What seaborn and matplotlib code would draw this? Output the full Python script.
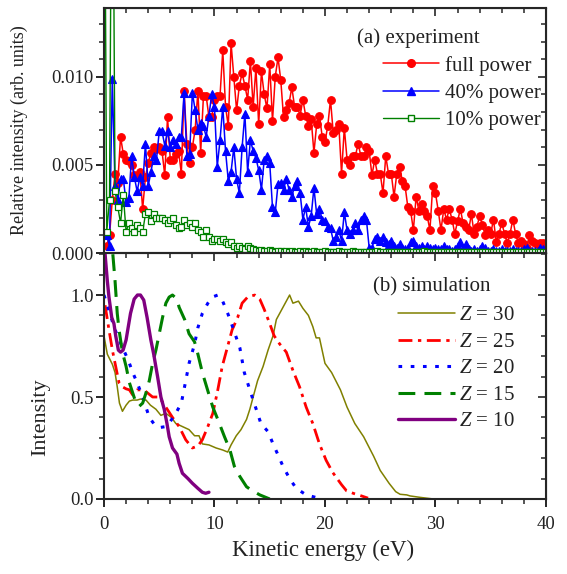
import numpy as np
import matplotlib
matplotlib.use("Agg")
import matplotlib.pyplot as plt
from matplotlib.ticker import MultipleLocator, FormatStrFormatter
from matplotlib.lines import Line2D
import seaborn as sns

# ---- (a) experiment: spectra on a 0.25 eV energy grid (values in 1e-3 arb. units)
energy = np.arange(0.25, 40.01, 0.25)
energy_10 = np.arange(0.0, 40.01, 0.25)

full_power = [
    0.4, 1.0, 3.0, 4.5, 4.0, 6.6, 5.6, 5.3,
    5.2, 5.0, 4.4, 4.3, 4.6, 2.5, 4.3, 5.1,
    5.7, 6.0, 5.9, 6.0, 5.8, 4.4, 7.7, 5.3,
    5.3, 5.6, 5.8, 4.5, 9.2, 6.2, 5.1, 6.0,
    7.0, 9.2, 5.7, 8.9, 8.9, 7.7, 7.7, 8.7,
    8.9, 8.9, 11.5, 8.3, 7.2, 11.9, 10.0, 8.1,
    9.5, 10.2, 9.5, 8.7, 10.9, 8.3, 10.5, 7.3,
    10.3, 9.0, 8.2, 10.7, 7.5, 10.0, 11.1, 9.8,
    7.7, 8.1, 8.5, 9.4, 8.3, 8.3, 7.8, 8.7,
    7.8, 7.2, 7.6, 5.7, 7.3, 7.8, 6.6, 6.3,
    7.2, 8.7, 6.8, 7.0, 7.3, 4.5, 7.1, 5.3,
    5.0, 5.5, 5.5, 6.2, 5.5, 5.5, 6.0, 5.8,
    4.4, 5.3, 4.5, 4.5, 3.4, 5.5, 4.5, 4.5,
    3.2, 4.5, 4.9, 4.1, 3.8, 2.6, 2.4, 1.3,
    3.2, 2.4, 2.8, 2.4, 2.1, 1.3, 3.8, 3.4,
    2.4, 1.3, 2.5, 1.9, 2.5, 1.9, 1.1, 1.8,
    2.5, 1.7, 1.5, 1.3, 2.2, 1.1, 1.5, 2.1,
    1.6, 1.0, 1.3, 1.1, 1.9, 0.65, 1.1, 1.7,
    1.1, 0.55, 1.1, 1.9, 1.1, 0.55, 0.7, 0.5,
    0.3, 1.0, 0.7, 0.55, 0.5, 0.55, 0.55, 0.45,
]
power_40 = [
    1.0, 0.4, 9.9, 3.8, 3.0, 4.2, 4.2, 2.9,
    3.1, 5.5, 4.3, 3.5, 4.3, 3.8, 6.2, 3.8,
    4.6, 5.5, 5.3, 6.9, 6.9, 6.1, 6.9, 6.0,
    6.4, 6.2, 6.6, 6.6, 9.1, 5.5, 5.6, 9.1,
    8.1, 7.0, 7.4, 7.2, 6.6, 7.8, 9.0, 8.3,
    4.9, 6.4, 8.3, 5.8, 4.1, 4.6, 6.0, 4.2,
    3.4, 6.0, 7.9, 4.6, 6.4, 5.8, 5.4, 4.7,
    3.6, 5.3, 5.5, 5.1, 2.6, 2.3, 3.9, 4.0,
    3.6, 4.2, 3.6, 3.2, 3.8, 4.1, 3.4, 1.9,
    2.6, 1.5, 2.1, 3.7, 2.2, 2.5, 1.9, 1.8,
    1.5, 1.4, 0.7, 0.9, 1.3, 0.7, 2.3, 1.3,
    1.1, 1.3, 1.7, 1.3, 1.9, 2.1, 1.9, 0.3,
    0.3, 0.8, 0.9, 0.7, 0.9, 0.6, 0.5, 0.7,
    0.4, 0.3, 0.5, 0.3, 0.2, 0.3, 0.6, 0.7,
    0.4, 0.3, 0.4, 0.2, 0.4, 0.3, 0.2, 0.3,
    0.2, 0.2, 0.4, 0.2, 0.2, 0.1, 0.2, 0.4,
    0.6, 0.3, 0.5, 0.2, 0.1, 0.2, 0.1, 0.2,
    0.4, 0.3, 0.1, 0.1, 0.2, 0.1, 0.1, 0.2,
    0.1, 0.1, 0.1, 0.2, 0.1, 0.1, 0.1, 0.2,
    0.3, 0.1, 0.1, 0.1, 0.1, 0.3, 0.2, 0.3,
]
power_10 = [
    30.0, 1.2, 3.0, 30.0, 3.5, 2.6, 1.7, 3.3,
    1.2, 1.7, 1.4, 1.2, 1.6, 1.4, 1.2, 2.2,
    2.3, 1.8, 2.2, 2.0, 2.0, 2.0, 1.9, 1.7,
    1.9, 2.0, 1.6, 1.4, 1.5, 1.9, 1.6, 1.7,
    1.5, 1.7, 1.3, 1.2, 0.9, 1.3, 0.9, 0.7,
    0.8, 0.8, 0.7, 0.8, 0.6, 0.5, 0.6, 0.4,
    0.3, 0.4, 0.3, 0.2, 0.4, 0.3, 0.2, 0.15,
    0.1, 0.15, 0.1, 0.1, 0.15, 0.1, 0.05, 0.1,
    0.1, 0.05, 0.1, 0.05, 0.1, 0.05, 0.05, 0.1,
    0.05, 0.1, 0.05, 0.05, 0.1, 0.05, 0.05, 0.05,
    0.1, 0.05, 0.05, 0.05, 0.05, 0.1, 0.05, 0.05,
    0.05, 0.05, 0.1, 0.05, 0.05, 0.05, 0.05, 0.05,
    0.05, 0.05, 0.05, 0.1, 0.05, 0.05, 0.05, 0.05,
    0.05, 0.05, 0.05, 0.05, 0.05, 0.05, 0.05, 0.05,
    0.05, 0.05, 0.05, 0.05, 0.1, 0.05, 0.05, 0.05,
    0.05, 0.05, 0.05, 0.05, 0.05, 0.05, 0.05, 0.05,
    0.05, 0.05, 0.05, 0.05, 0.05, 0.05, 0.05, 0.05,
    0.05, 0.05, 0.05, 0.05, 0.05, 0.05, 0.05, 0.05,
    0.05, 0.05, 0.05, 0.05, 0.05, 0.05, 0.05, 0.05,
    0.05, 0.05, 0.05, 0.05, 0.05, 0.05, 0.05, 0.05,
    0.05,
]

# ---- (b) simulation: normalised intensity curves
e_z10 = [0.1, 0.3, 0.45, 0.7, 0.9, 1.06, 1.2, 1.3, 1.5, 1.73, 2.0, 2.2, 2.4, 2.73, 3.03, 3.3,
         3.6, 3.9, 4.24, 4.5, 4.85, 5.15, 5.45, 5.7, 5.9, 6.2, 6.6, 6.8, 7.1, 7.6, 8.0, 8.5,
         8.9, 9.2, 9.5]
i_z10 = [1.2, 1.07, 0.99, 0.89, 0.86, 0.80, 0.76, 0.73, 0.72, 0.73, 0.78, 0.845, 0.91, 0.98, 1.0, 1.0,
         0.975, 0.89, 0.78, 0.71, 0.60, 0.50, 0.44, 0.37, 0.305, 0.25, 0.22, 0.175, 0.126, 0.10, 0.077, 0.052,
         0.033, 0.028, 0.033]

e_z15 = [0.8, 1.0, 1.2, 1.36, 1.67, 2.0, 2.3, 2.6, 2.9, 3.2, 3.5, 3.8, 4.1, 4.4, 4.7, 5.0,
         5.3, 5.6, 5.9, 6.2, 6.6, 6.8, 7.3, 7.7, 8.2, 8.5, 8.9, 9.4, 9.85, 10.3, 10.9, 11.4,
         11.8, 12.3, 12.9, 13.3, 14.1, 15.0]
i_z15 = [1.2, 1.07, 0.91, 0.83, 0.72, 0.65, 0.57, 0.52, 0.47, 0.455, 0.47, 0.52, 0.58, 0.665, 0.73, 0.81,
         0.89, 0.96, 0.99, 1.0, 0.98, 0.94, 0.88, 0.81, 0.77, 0.71, 0.62, 0.53, 0.45, 0.39, 0.306, 0.24,
         0.16, 0.11, 0.06, 0.045, 0.02, 0.0]

e_z20 = [0.0, 0.3, 0.76, 1.2, 1.7, 2.2, 2.6, 3.0, 3.5, 4.1, 4.5, 5.0, 5.6, 6.0, 6.5, 7.0,
         7.4, 7.7, 8.2, 8.5, 8.9, 9.4, 9.8, 10.3, 10.7, 11.2, 11.6, 12.3, 12.7, 13.2, 13.5, 13.9,
         14.2, 14.85, 15.3, 15.8, 16.2, 16.8, 17.4, 18.3, 19.5]
i_z20 = [1.0, 0.95, 0.87, 0.80, 0.74, 0.68, 0.62, 0.57, 0.50, 0.40, 0.37, 0.35, 0.355, 0.38, 0.42, 0.47,
         0.58, 0.665, 0.76, 0.84, 0.91, 0.96, 0.99, 1.0, 0.975, 0.91, 0.85, 0.74, 0.62, 0.535, 0.485, 0.42,
         0.37, 0.33, 0.27, 0.21, 0.16, 0.10, 0.052, 0.02, 0.003]

e_z25 = [0.1, 0.45, 0.76, 1.06, 1.36, 1.67, 2.0, 2.3, 2.6, 3.0, 3.6, 4.4, 5.0, 5.6, 6.2, 6.8,
         7.4, 8.0, 8.5, 8.9, 9.4, 9.85, 10.3, 10.7, 11.2, 11.6, 12.1, 12.5, 13.0, 13.64, 14.1, 14.5,
         15.0, 15.4, 15.9, 16.5, 17.1, 17.7, 18.3, 18.9, 19.5, 20.1, 20.7, 21.5, 21.95, 22.6, 23.3, 23.9]
i_z25 = [0.95, 0.83, 0.73, 0.65, 0.57, 0.55, 0.54, 0.535, 0.51, 0.535, 0.535, 0.50, 0.50, 0.45, 0.40, 0.355,
         0.29, 0.25, 0.26, 0.29, 0.355, 0.42, 0.535, 0.65, 0.75, 0.83, 0.89, 0.96, 0.99, 1.0, 0.98, 0.93,
         0.86, 0.80, 0.76, 0.72, 0.63, 0.55, 0.45, 0.37, 0.27, 0.19, 0.13, 0.07, 0.04, 0.027, 0.015, 0.004]

e_z30 = [0.0, 0.3, 0.76, 1.0, 1.2, 1.4, 1.67, 2.0, 2.3, 2.6, 3.0, 3.3, 3.8, 4.2, 4.7, 5.15,
         5.6, 6.1, 6.5, 7.1, 7.7, 8.2, 8.6, 8.9, 9.5, 10.15, 10.75, 11.2, 11.5, 11.97, 12.4, 12.9,
         13.2, 13.5, 13.9, 14.4, 14.85, 15.3, 15.6, 16.1, 16.5, 16.8, 17.1, 17.6, 18.0, 18.5, 18.9, 19.2,
         19.5, 20.0, 20.6, 21.4, 22.0, 22.7, 23.5, 24.4, 25.0, 25.8, 26.4, 26.8, 27.4, 27.7, 28.6, 29.8]
i_z30 = [0.80, 0.71, 0.66, 0.62, 0.55, 0.47, 0.43, 0.46, 0.48, 0.485, 0.485, 0.49, 0.485, 0.46, 0.44, 0.41,
         0.42, 0.40, 0.37, 0.355, 0.34, 0.31, 0.31, 0.27, 0.265, 0.25, 0.24, 0.23, 0.265, 0.31, 0.34, 0.39,
         0.44, 0.50, 0.58, 0.65, 0.73, 0.80, 0.88, 0.93, 0.97, 1.0, 0.96, 0.97, 0.935, 0.90, 0.845, 0.79,
         0.79, 0.665, 0.62, 0.535, 0.45, 0.37, 0.305, 0.21, 0.14, 0.077, 0.036, 0.023, 0.02, 0.015, 0.008, 0.0]

sns.set_style("ticks")
plt.rcParams["font.family"] = ["Liberation Serif", "DejaVu Serif"]
plt.rcParams["mathtext.fontset"] = "custom"
plt.rcParams["mathtext.rm"] = "Liberation Serif"
plt.rcParams["mathtext.it"] = "Liberation Serif:italic"
txt = "#222222"

fig = plt.figure(figsize=(5.67, 5.74), dpi=100)
ax1 = fig.add_axes([0.1834, 0.5592, 0.7795, 0.4268])
ax2 = fig.add_axes([0.1834, 0.1307, 0.7795, 0.4285])

# top panel
sns.lineplot(x=energy, y=np.array(full_power) * 1e-3, ax=ax1, estimator=None, color="#ff0000",
             lw=1.1, marker="o", markersize=5.5, markeredgecolor="#ff0000", markeredgewidth=0.8)
sns.lineplot(x=energy, y=np.array(power_40) * 1e-3, ax=ax1, estimator=None, color="#0000ff",
             lw=1.1, marker="^", markersize=6, markeredgecolor="#0000ff", markeredgewidth=0.8)
sns.lineplot(x=energy_10, y=np.array(power_10) * 1e-3, ax=ax1, estimator=None, color="#008000",
             lw=1.0, marker="s", markersize=4.5, markerfacecolor="white",
             markeredgecolor="#008000", markeredgewidth=0.9)

# bottom panel
sns.lineplot(x=e_z30, y=i_z30, ax=ax2, estimator=None, sort=False, color="#808000", lw=1.1)
sns.lineplot(x=e_z25, y=i_z25, ax=ax2, estimator=None, sort=False, color="#ff0000", lw=2.0,
             linestyle=(0, (5, 2, 1.2, 2)))
sns.lineplot(x=e_z20, y=i_z20, ax=ax2, estimator=None, sort=False, color="#0000ff", lw=2.2,
             linestyle=(0, (1.2, 2.8)))
sns.lineplot(x=e_z15, y=i_z15, ax=ax2, estimator=None, sort=False, color="#008000", lw=2.2,
             linestyle=(0, (5.5, 3)))
sns.lineplot(x=e_z10, y=i_z10, ax=ax2, estimator=None, sort=False, color="#800080", lw=2.4)

for ax, ylim, ymaj, ymin, fmt in [(ax1, (0, 0.0139), 0.005, 0.001, "%.3f"),
                                  (ax2, (0, 1.206), 0.5, 0.1, "%.1f")]:
    ax.set_xlim(0, 40)
    ax.set_ylim(*ylim)
    ax.xaxis.set_major_locator(MultipleLocator(10))
    ax.xaxis.set_minor_locator(MultipleLocator(2))
    ax.yaxis.set_major_locator(MultipleLocator(ymaj))
    ax.yaxis.set_minor_locator(MultipleLocator(ymin))
    ax.yaxis.set_major_formatter(FormatStrFormatter(fmt))
    ax.tick_params(which="major", direction="out", length=6, width=1.2, labelsize=13.5,
                   colors="black", labelcolor=txt, pad=1.5)
    ax.tick_params(which="minor", direction="out", length=3.5, width=1.1)
    for s in ax.spines.values():
        s.set_linewidth(1.5)
        s.set_visible(True)
    ax.set_xlabel("")
    ax.set_ylabel("")
    # mirrored inward ticks on top and right
    top = ax.secondary_xaxis("top")
    top.xaxis.set_major_locator(MultipleLocator(10))
    top.xaxis.set_minor_locator(MultipleLocator(2))
    top.tick_params(which="major", direction="in", length=6, width=1.2, labeltop=False)
    top.tick_params(which="minor", direction="in", length=3.5, width=1.1)
    right = ax.secondary_yaxis("right")
    right.yaxis.set_major_locator(MultipleLocator(ymaj))
    right.yaxis.set_minor_locator(MultipleLocator(ymin))
    right.tick_params(which="major", direction="in", length=6, width=1.2, labelright=False)
    right.tick_params(which="minor", direction="in", length=3.5, width=1.1)

ax1.tick_params(labelbottom=False)
ax2.tick_params(axis="x", pad=6)

ax1.set_ylabel("Relative intensity (arb. units)", fontsize=13, color=txt)
ax1.yaxis.set_label_coords(-0.172, 0.5)
ax2.set_ylabel("Intensity", fontsize=16, color=txt)
ax2.yaxis.set_label_coords(-0.122, 0.333)
ax2.set_xlabel("Kinetic energy (eV)", fontsize=16.5, color=txt)
ax2.xaxis.set_label_coords(0.495, -0.165)

# legends
exp_handles = [
    Line2D([], [], color="#ff0000", lw=1.1, marker="o", markersize=5.5),
    Line2D([], [], color="#0000ff", lw=1.1, marker="^", markersize=6),
    Line2D([], [], color="#008000", lw=1.0, marker="s", markersize=4.5, markerfacecolor="white"),
]
leg1 = ax1.legend(exp_handles, ["full power", "40% power", "10% power"], loc="upper left",
                  bbox_to_anchor=(0.632, 0.805), frameon=False, fontsize=15, handlelength=2.65,
                  handletextpad=0.3, labelspacing=0.36, borderpad=0, borderaxespad=0, numpoints=1)
for t in leg1.get_texts():
    t.set_color(txt)
ax1.text(0.572, 0.878, "(a) experiment", transform=ax1.transAxes, fontsize=15, color=txt,
         ha="left", va="center")

sim_handles = [
    Line2D([], [], color="#808000", lw=1.1),
    Line2D([], [], color="#ff0000", lw=2.0, linestyle=(0, (5, 2, 1.2, 2))),
    Line2D([], [], color="#0000ff", lw=2.2, linestyle=(0, (1.2, 2.8))),
    Line2D([], [], color="#008000", lw=2.2, linestyle=(0, (5.5, 3))),
    Line2D([], [], color="#800080", lw=2.4),
]
sim_labels = ["$Z$ = 30", "$Z$ = 25", "$Z$ = 20", "$Z$ = 15", "$Z$ = 10"]
leg2 = ax2.legend(sim_handles, sim_labels, loc="upper left", bbox_to_anchor=(0.665, 0.785),
                  frameon=False, fontsize=15, handlelength=2.75, handletextpad=0.2,
                  labelspacing=0.33, borderpad=0, borderaxespad=0)
for t in leg2.get_texts():
    t.set_color(txt)
ax2.text(0.609, 0.862, "(b) simulation", transform=ax2.transAxes, fontsize=15, color=txt,
         ha="left", va="center")

fig.savefig("out.png", dpi=100)
